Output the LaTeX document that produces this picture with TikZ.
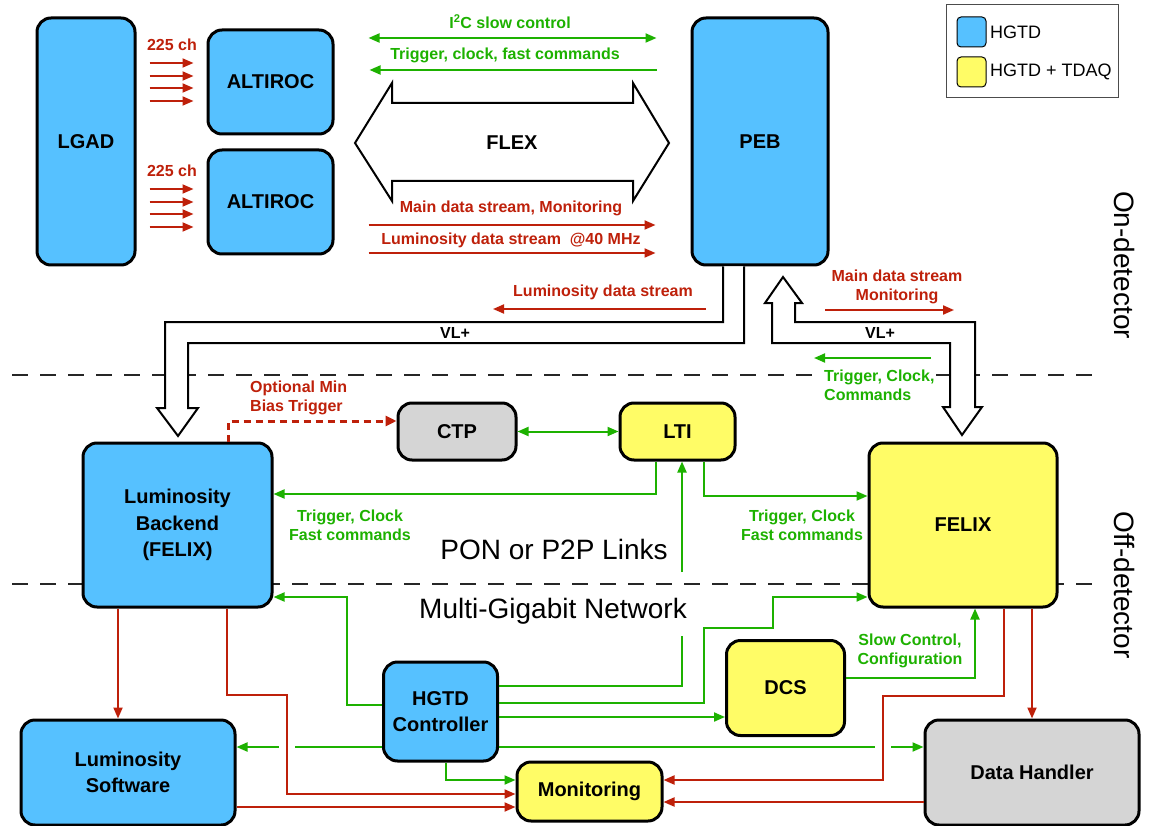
\documentclass[tikz,border=0pt]{standalone}
\usepackage{fontspec}
\setmainfont{Liberation Sans}
\usetikzlibrary{arrows.meta}
\definecolor{hblue}{RGB}{86,193,255}
\definecolor{hyellow}{RGB}{255,252,102}
\definecolor{hgray}{RGB}{213,213,213}
\definecolor{tgreen}{RGB}{29,177,0}
\definecolor{tred}{RGB}{190,32,10}
\newcommand\boxfont{\fontsize{20}{26.5}\selectfont\bfseries}
\newcommand\lblfont{\fontsize{16}{19}\selectfont\bfseries}
\newcommand\bigfont{\fontsize{28}{30}\selectfont}
\tikzset{
  box/.style={draw, line width=3pt, rounded corners=14pt, font=\boxfont, align=center, inner sep=0pt},
  redarr/.style={draw=tred, line width=2pt, -{Triangle[length=11pt,width=9pt]}},
  grnarr/.style={draw=tgreen, line width=2pt, -{Triangle[length=11pt,width=9pt]}},
  grndbl/.style={draw=tgreen, line width=2pt, {Triangle[length=11pt,width=9pt]}-{Triangle[length=11pt,width=9pt]}},
  redlbl/.style={text=tred, font=\lblfont, align=center, inner sep=1pt},
  grnlbl/.style={text=tgreen, font=\lblfont, align=center, inner sep=1pt},
  dline/.style={line width=2pt, black!85, dash pattern=on 16pt off 12pt},
  hollow/.style={draw=black, line width=2pt, fill=white, line join=miter},
  gap/.style={draw=white, line width=6pt}
}
\begin{document}
\begin{tikzpicture}[x=1pt,y=-1pt]
\useasboundingbox (0,0) rectangle (1156,826);

% dashed separators
\draw[dline] (12,375) -- (1100,375);
\draw[dline] (12,584) -- (1100,584);

% on-detector boxes
\node[box, fill=hblue, minimum width=98pt, minimum height=247pt] (lgad) at (86,141.5) {LGAD};
\node[box, fill=hblue, minimum width=125pt, minimum height=104pt] (alt1) at (270.5,82) {ALTIROC};
\node[box, fill=hblue, minimum width=125pt, minimum height=104pt] (alt2) at (270.5,202) {ALTIROC};
\node[box, fill=hblue, minimum width=136pt, minimum height=247pt] (peb) at (760,141.5) {PEB};

% 225 ch arrows
\node[redlbl] (ch1) at (172,45) {225 ch};
\node[redlbl] (ch2) at (172,171) {225 ch};
\foreach \y in {63,76,88,101}
  \draw[redarr, line width=1.8pt, shorten <=13pt, shorten >=13pt] (lgad.east |- 0,\y) -- (alt1.west |- 0,\y);
\foreach \y in {189,202,214,227}
  \draw[redarr, line width=1.8pt, shorten <=13pt, shorten >=13pt] (lgad.east |- 0,\y) -- (alt2.west |- 0,\y);

% FLEX
\draw[hollow] (355,143) -- (392,83) -- (392,103) -- (633,103) -- (633,83) -- (669,143)
  -- (633,201) -- (633,181) -- (392,181) -- (392,201) -- cycle;
\node[font=\boxfont] (flex) at (512,143) {FLEX};

% on-detector links
\node[grnlbl] (i2c) at (510,22) {I\textsuperscript{2}C slow control};
\draw[grndbl, shorten <=34pt, shorten >=34pt] (alt1.east |- 0,38) -- (peb.west |- 0,38);
\node[grnlbl] (tcf) at (505,55) {Trigger, clock, fast commands};
\draw[grnarr, shorten <=34pt, shorten >=35pt] (peb.west |- 0,70) -- (alt1.east |- 0,70);
\node[redlbl] (mds) at (511,208) {Main data stream, Monitoring};
\draw[redarr, shorten <=34pt, shorten >=35pt] (alt2.east |- 0,225) -- (peb.west |- 0,225);
\node[redlbl] (lds) at (511,240) {Luminosity data stream\ \ @40 MHz};
\draw[redarr, shorten <=34pt, shorten >=35pt] (alt2.east |- 0,253) -- (peb.west |- 0,253);

% VL+ left
\draw[hollow] (723,266.5) -- (723,322) -- (165,322) -- (165,408) -- (157,408) -- (178,436)
  -- (198,408) -- (188,408) -- (188,343) -- (744,343) -- (744,266.5);
\node[font=\lblfont] (vl1) at (455,333) {VL+};
% VL+ right
\draw[hollow] (950,407) -- (950,343) -- (772,343) -- (772,303) -- (765,303) -- (783,277)
  -- (802,303) -- (795,303) -- (795,322) -- (975,322) -- (975,407) -- (982,407)
  -- (962,435) -- (943,407) -- cycle;
\node[font=\lblfont] (vl2) at (880,333) {VL+};

\node[redlbl] (ldsb) at (603,292) {Luminosity data stream};
\coordinate (ldsA) at (706,309);
\coordinate (ldsB) at (493,309);
\draw[redarr] (ldsA) -- (ldsB);
\node[redlbl] (mdsb) at (897,287) {Main data stream\\Monitoring};
\coordinate (mdsA) at (825,310);
\coordinate (mdsB) at (954,310);
\draw[redarr] (mdsA) -- (mdsB);
\coordinate (tccA) at (931,358);
\coordinate (tccB) at (814,358);
\draw[grnarr] (tccA) -- (tccB);
\node[grnlbl, align=left, anchor=west, fill=white] (tcc) at (823,385) {Trigger, Clock,\\Commands};

% legend
\draw[line width=1pt, black!70] (946,5) rectangle (1118,98);
\draw[line width=1pt, rounded corners=4pt, fill=hblue] (957,17) rectangle (986,47);
\draw[line width=1pt, rounded corners=4pt, fill=hyellow] (957,57) rectangle (986,87);
\node[anchor=west, font=\fontsize{18}{20}\selectfont, inner sep=0pt] (lg1) at (990,32) {HGTD};
\node[anchor=west, font=\fontsize{18}{20}\selectfont, inner sep=0pt] (lg2) at (990,72) {HGTD + TDAQ};

% side labels
\node[font=\bigfont, rotate=-90] (ond) at (1124,265) {On-detector};
\node[font=\bigfont, rotate=-90] (offd) at (1124,585) {Off-detector};

% off-detector boxes
\node[box, fill=hgray, minimum width=118pt, minimum height=57pt] (ctp) at (457,431.5) {CTP};
\node[box, fill=hyellow, minimum width=115pt, minimum height=57pt] (lti) at (677.5,431.5) {LTI};
\node[box, fill=hblue, minimum width=189pt, minimum height=164pt] (lumbe) at (177.5,525) {Luminosity\\Backend\\(FELIX)};
\node[box, fill=hyellow, minimum width=188pt, minimum height=164pt] (felix) at (963,525) {FELIX};
\node[box, fill=hblue, minimum width=114pt, minimum height=99pt] (ctrl) at (440.5,711.5) {HGTD\\Controller};
\node[box, fill=hyellow, minimum width=118pt, minimum height=95pt] (dcs) at (785.5,688) {DCS};
\node[box, fill=hyellow, minimum width=145pt, minimum height=59pt] (mon) at (589.5,791.5) {Monitoring};
\node[box, fill=hblue, minimum width=214pt, minimum height=105pt] (lumsw) at (128,772.5) {Luminosity\\Software};
\node[box, fill=hgray, minimum width=214pt, minimum height=105pt] (dh) at (1032,772.5) {Data Handler};

% optional min bias
\node[redlbl, align=left, anchor=west] (omb) at (249,397.5) {Optional Min\\Bias Trigger};
\draw[draw=tred, line width=3pt, dash pattern=on 7pt off 5pt, -{Triangle[length=11pt,width=10pt]}]
  (lumbe.north -| 228,0) -- (228,421) -- (ctp.west |- 0,421);

% CTP - LTI
\draw[grndbl] (ctp.east) -- (lti.west);

% LTI links
\draw[grnarr] (lti.south -| 656,0) -- (656,494) -- (lumbe.east |- 0,494);
\node[grnlbl] (tcl) at (350,525.5) {Trigger, Clock\\Fast commands};
\draw[grnarr] (lti.south -| 704,0) -- (704,496) -- (felix.west |- 0,496);
\node[grnlbl] (tcr) at (802,525.5) {Trigger, Clock\\Fast commands};

\node[font=\bigfont] (pon) at (554,549) {PON or P2P Links};
\node[font=\bigfont] (mgn) at (553,611) {Multi-Gigabit Network};

% HGTD controller green links
\coordinate (gapB) at (682,636);
\coordinate (gapT) at (682,572);
\draw[draw=tgreen, line width=2pt] (ctrl.east |- 0,686) -- (682,686) -- (gapB);
\draw[grnarr] (gapT) -- (lti.south -| gapT);
\draw[grnarr] (ctrl.east |- 0,703) -- (704,703) -- (704,628) -- (773,628) -- (773,597) -- (felix.west |- 0,597);
\draw[grnarr] (ctrl.east |- 0,717) -- (dcs.west |- 0,717);
\draw[grnarr] (ctrl.east |- 0,747) -- (dh.west |- 0,747);
\draw[grnarr] (ctrl.west |- 0,747) -- (lumsw.east |- 0,747);
\draw[grnarr] (ctrl.west |- 0,705) -- (347,705) -- (347,597) -- (lumbe.east |- 0,597);
\draw[grnarr] (ctrl.south -| 446,0) -- (446,780) -- (mon.west |- 0,780);

% DCS -> FELIX
\draw[grnarr] (dcs.east |- 0,678) -- (975,678) -- (felix.south -| 975,0);
\node[grnlbl] (scc) at (910,651) {Slow Control,\\Configuration};

% gaps for crossings
\draw[gap] (279,747) -- (295,747);
\draw[gap] (875,747) -- (891,747);

% red data links
\draw[redarr] (lumbe.south -| 118,0) -- (lumsw.north -| 118,0);
\draw[redarr] (lumbe.south -| 227,0) -- (227,695) -- (287,695) -- (287,794) -- (mon.west |- 0,794);
\draw[redarr] (lumsw.east |- 0,807) -- (mon.west |- 0,807);
\draw[redarr] (felix.south -| 1004,0) -- (1004,696) -- (883,696) -- (883,780) -- (mon.east |- 0,780);
\draw[redarr] (felix.south -| 1032,0) -- (dh.north -| 1032,0);
\draw[redarr] (dh.west |- 0,802) -- (mon.east |- 0,802);
\end{tikzpicture}
\end{document}
